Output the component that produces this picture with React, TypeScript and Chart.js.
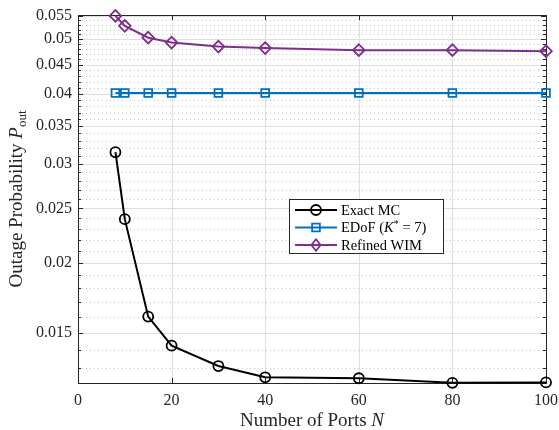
import React, { useEffect, useRef } from 'react';
import { Chart, registerables } from 'chart.js';

Chart.register(...registerables);

// ---------- data ----------
const portCounts = [8, 10, 15, 20, 30, 40, 60, 80, 100];
const exactMC = [0.03146, 0.02391, 0.01604, 0.01424, 0.0131, 0.01251, 0.01246, 0.01223, 0.01225];
const edof = [0.0401, 0.0401, 0.0401, 0.0401, 0.0401, 0.0401, 0.0401, 0.0401, 0.0401];
const refinedWIM = [0.055, 0.0528, 0.0503, 0.0493, 0.0485, 0.0482, 0.0478, 0.0478, 0.0476];
const seriesLabels = ['Exact MC', 'EDoF (K* = 7)', 'Refined WIM'];
const xTickValues = [0, 20, 40, 60, 80, 100];
const yMajorTicks = [0.015, 0.02, 0.025, 0.03, 0.035, 0.04, 0.045, 0.05, 0.055];
const yMinorTicks = [
  0.013, 0.014, 0.016, 0.017, 0.018, 0.019, 0.021, 0.022, 0.023, 0.024,
  0.026, 0.027, 0.028, 0.029, 0.031, 0.032, 0.033, 0.034, 0.036, 0.037,
  0.038, 0.039, 0.041, 0.042, 0.043, 0.044, 0.046, 0.047, 0.048, 0.049,
  0.051, 0.052, 0.053, 0.054,
];
const yTickLabels = ['0.015', '0.02', '0.025', '0.03', '0.035', '0.04', '0.045', '0.05', '0.055'];
const yMin = 0.01222;
const yMax = 0.0552;

const colors = ['#000000', '#0072BD', '#7E2F8E'];
const FONT = '"Liberation Serif", "Times New Roman", serif';
const AXIS = '#262626';

type Part = { t: string; italic?: boolean; size: number; dy?: number };

function partFont(p: Part) {
  return `${p.italic ? 'italic ' : ''}${p.size}px ${FONT}`;
}

function drawRich(ctx: CanvasRenderingContext2D, parts: Part[], x: number, y: number, align: 'left' | 'center') {
  ctx.save();
  ctx.textAlign = 'left';
  let total = 0;
  for (const p of parts) {
    ctx.font = partFont(p);
    total += ctx.measureText(p.t).width;
  }
  let cx = align === 'center' ? x - total / 2 : x;
  for (const p of parts) {
    ctx.font = partFont(p);
    ctx.fillText(p.t, cx, y + (p.dy || 0));
    cx += ctx.measureText(p.t).width;
  }
  ctx.restore();
}

function drawMarker(ctx: CanvasRenderingContext2D, kind: number, x: number, y: number, color: string) {
  ctx.save();
  ctx.strokeStyle = color;
  ctx.lineWidth = 1.8;
  ctx.beginPath();
  if (kind === 0) {
    ctx.arc(x, y, 5, 0, Math.PI * 2);
  } else if (kind === 1) {
    ctx.rect(x - 3.9, y - 3.9, 7.8, 7.8);
  } else {
    ctx.moveTo(x, y - 5.8);
    ctx.lineTo(x + 4.6, y);
    ctx.lineTo(x, y + 5.8);
    ctx.lineTo(x - 4.6, y);
    ctx.closePath();
  }
  ctx.stroke();
  ctx.restore();
}

const framePlugin = {
  id: 'matlabFrame',
  beforeDatasetsDraw(chart: any) {
    const ctx: CanvasRenderingContext2D = chart.ctx;
    const { left, right, top, bottom } = chart.chartArea;
    const ys = chart.scales.y;
    const xs = chart.scales.x;
    ctx.save();
    // minor dotted grid
    ctx.strokeStyle = '#c4c4c4';
    ctx.lineWidth = 1;
    ctx.setLineDash([1, 3]);
    for (const v of yMinorTicks) {
      const py = Math.round(ys.getPixelForValue(v)) + 0.5;
      ctx.beginPath();
      ctx.moveTo(left, py);
      ctx.lineTo(right, py);
      ctx.stroke();
    }
    ctx.setLineDash([]);
    // major grid
    ctx.strokeStyle = '#dfdfdf';
    for (const v of yMajorTicks) {
      const py = Math.round(ys.getPixelForValue(v)) + 0.5;
      ctx.beginPath();
      ctx.moveTo(left, py);
      ctx.lineTo(right, py);
      ctx.stroke();
    }
    for (const v of xTickValues) {
      const px = Math.round(xs.getPixelForValue(v)) + 0.5;
      ctx.beginPath();
      ctx.moveTo(px, top);
      ctx.lineTo(px, bottom);
      ctx.stroke();
    }
    // frame
    ctx.strokeStyle = AXIS;
    ctx.lineWidth = 1;
    ctx.strokeRect(Math.round(left) + 0.5, Math.round(top) + 0.5, Math.round(right - left), Math.round(bottom - top));
    // tick marks
    ctx.beginPath();
    for (const v of yMajorTicks) {
      const py = Math.round(ys.getPixelForValue(v)) + 0.5;
      ctx.moveTo(left, py); ctx.lineTo(left + 5, py);
      ctx.moveTo(right, py); ctx.lineTo(right - 5, py);
    }
    for (const v of yMinorTicks) {
      const py = Math.round(ys.getPixelForValue(v)) + 0.5;
      ctx.moveTo(left, py); ctx.lineTo(left + 3, py);
      ctx.moveTo(right, py); ctx.lineTo(right - 3, py);
    }
    for (const v of xTickValues) {
      const px = Math.round(xs.getPixelForValue(v)) + 0.5;
      ctx.moveTo(px, bottom); ctx.lineTo(px, bottom - 5);
      ctx.moveTo(px, top); ctx.lineTo(px, top + 5);
    }
    ctx.stroke();
    ctx.restore();
  },
  afterDatasetsDraw(chart: any) {
    const ctx: CanvasRenderingContext2D = chart.ctx;
    // legend
    const bx = 289.5, by = 199.5, bw = 154, bh = 54;
    ctx.save();
    ctx.fillStyle = '#ffffff';
    ctx.fillRect(bx, by, bw, bh);
    ctx.strokeStyle = AXIS;
    ctx.lineWidth = 1;
    ctx.strokeRect(bx, by, bw, bh);
    const rows = [210, 227.5, 245];
    chart.data.datasets.forEach((ds: any, i: number) => {
      const ry = rows[i];
      ctx.strokeStyle = ds.borderColor;
      ctx.lineWidth = 2;
      ctx.beginPath();
      ctx.moveTo(295, ry);
      ctx.lineTo(337, ry);
      ctx.stroke();
      drawMarker(ctx, i, 316, ry, ds.borderColor);
      ctx.fillStyle = '#000';
      ctx.textBaseline = 'middle';
      if (i === 1) {
        drawRich(ctx, [
          { t: 'EDoF (', size: 14.5 },
          { t: 'K', size: 14.5, italic: true },
          { t: '*', size: 10, dy: -4 },
          { t: ' = 7)', size: 14.5 },
        ], 341, ry + 1, 'left');
      } else {
        drawRich(ctx, [{ t: ds.label, size: 14.5 }], 341, ry + 1, 'left');
      }
    });
    ctx.restore();
  },
  afterDraw(chart: any) {
    const ctx: CanvasRenderingContext2D = chart.ctx;
    const { left, right, top, bottom } = chart.chartArea;
    ctx.save();
    ctx.fillStyle = AXIS;
    ctx.textBaseline = 'alphabetic';
    drawRich(ctx, [
      { t: 'Number of Ports ', size: 19 },
      { t: 'N', size: 19, italic: true },
    ], (left + right) / 2, 426, 'center');
    ctx.translate(22, (top + bottom) / 2);
    ctx.rotate(-Math.PI / 2);
    drawRich(ctx, [
      { t: 'Outage Probability ', size: 19 },
      { t: 'P', size: 19, italic: true },
      { t: 'out', size: 13, dy: 4 },
    ], 0, 0, 'center');
    ctx.restore();
  },
};

export default function App() {
  const ref = useRef<HTMLCanvasElement>(null);
  useEffect(() => {
    document.body.style.margin = '0';
    const makeSet = (label: string, data: number[], color: string, style: any, radius: number) => ({
      label,
      data: portCounts.map((n, i) => ({ x: n, y: data[i] })),
      borderColor: color,
      backgroundColor: 'rgba(0,0,0,0)',
      borderWidth: 2,
      pointStyle: style,
      pointRadius: radius,
      pointBorderWidth: 1.8,
      pointBackgroundColor: 'rgba(0,0,0,0)',
      pointBorderColor: color,
      tension: 0,
      clip: false as any,
    });
    const chart = new Chart(ref.current!, {
      type: 'line',
      data: {
        datasets: [
          makeSet(seriesLabels[0], exactMC, colors[0], 'circle', 5),
          makeSet(seriesLabels[1], edof, colors[1], 'rect', 5.5),
          makeSet(seriesLabels[2], refinedWIM, colors[2], 'rectRot', 5.8),
        ],
      },
      options: {
        responsive: false,
        devicePixelRatio: 1,
        animation: false,
        layout: { padding: { left: 0, right: 13, top: 15, bottom: 0 } },
        plugins: { legend: { display: false }, tooltip: { enabled: false }, title: { display: false } },
        scales: {
          x: {
            type: 'linear',
            min: 0,
            max: 100,
            bounds: 'data',
            grid: { display: false, drawTicks: false },
            border: { display: false },
            afterBuildTicks: (s: any) => { s.ticks = xTickValues.map((v) => ({ value: v })); },
            afterFit: (s: any) => { s.height = 47; s.paddingLeft = 0; s.paddingRight = 0; },
            ticks: {
              autoSkip: false,
              maxRotation: 0,
              padding: 8,
              color: AXIS,
              font: { family: FONT, size: 16 },
              callback: (v: any) => String(v),
            },
          },
          y: {
            type: 'logarithmic',
            min: yMin,
            max: yMax,
            bounds: 'data',
            grid: { display: false, drawTicks: false },
            border: { display: false },
            afterBuildTicks: (s: any) => {
              s.ticks = [...yMinorTicks, ...yMajorTicks].sort((a, b) => a - b).map((v) => ({ value: v }));
            },
            afterFit: (s: any) => { s.width = 78; s.paddingTop = 0; s.paddingBottom = 0; },
            ticks: {
              autoSkip: false,
              padding: 6,
              color: AXIS,
              font: { family: FONT, size: 16 },
              callback: (v: any) => {
                const idx = yMajorTicks.findIndex((m) => Math.abs(m - v) < 1e-9);
                return idx >= 0 ? yTickLabels[idx] : '';
              },
            },
          },
        },
      } as any,
      plugins: [framePlugin],
    });
    return () => chart.destroy();
  }, []);
  return (
    <div style={{ width: 559, height: 430 }}>
      <canvas ref={ref} width={559} height={430} style={{ display: 'block' }} />
    </div>
  );
}
